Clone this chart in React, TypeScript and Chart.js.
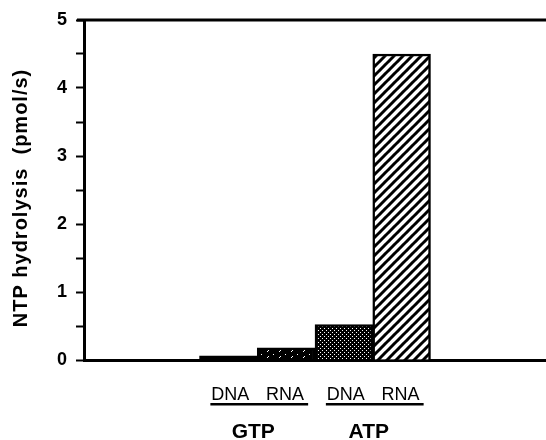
import React, { useEffect, useRef } from "react";
import { Chart, registerables } from "chart.js";

Chart.register(...registerables);

const categories = ["", "", "DNA", "RNA", "DNA", "RNA", "", ""];
const hydrolysis = [null, null, 0.06, 0.18, 0.52, 4.5, null, null];
const groups = [
  { name: "GTP", from: 2, to: 3 },
  { name: "ATP", from: 4, to: 5 },
];
const yTicks = [0, 1, 2, 3, 4, 5];
const yTitle = "NTP hydrolysis  (pmol/s)";

function makePattern(kind: string): CanvasPattern | string {
  const c = document.createElement("canvas");
  const ctx = c.getContext("2d")!;
  if (kind === "hatch") {
    c.width = 9; c.height = 9;
    ctx.fillStyle = "#fff";
    ctx.fillRect(0, 0, 9, 9);
    ctx.strokeStyle = "#000";
    ctx.lineWidth = 3;
    for (let o = -9; o <= 18; o += 9) {
      ctx.beginPath();
      ctx.moveTo(o - 1, 10);
      ctx.lineTo(o + 10, -1);
      ctx.stroke();
    }
  } else if (kind === "dots") {
    c.width = 4; c.height = 4;
    ctx.fillStyle = "#000";
    ctx.fillRect(0, 0, 4, 4);
    ctx.fillStyle = "#fff";
    ctx.fillRect(0, 0, 1, 1);
    ctx.fillRect(2, 2, 1, 1);
  } else if (kind === "dash") {
    c.width = 12; c.height = 6;
    ctx.fillStyle = "#000";
    ctx.fillRect(0, 0, 12, 6);
    ctx.fillStyle = "#fff";
    ctx.fillRect(3, 3, 1, 1);
    ctx.fillRect(4, 2, 1, 1);
    ctx.fillRect(9, 0, 1, 1);
  } else {
    return "#000";
  }
  return ctx.createPattern(c, "repeat")!;
}

export default function App() {
  const ref = useRef<HTMLCanvasElement>(null);
  useEffect(() => {
    const fills = [
      "#000", "#000",
      makePattern("solid"),
      makePattern("dash"),
      makePattern("dots"),
      makePattern("hatch"),
      "#000", "#000",
    ];
    const labelsPlugin = {
      id: "groupLabels",
      afterDraw(chart: any) {
        const ctx = chart.ctx;
        const x = chart.scales.x;
        const y = chart.scales.y;
        const area = chart.chartArea;
        ctx.save();
        // top frame line
        ctx.strokeStyle = "#000";
        ctx.lineWidth = 3;
        ctx.beginPath();
        ctx.moveTo(area.left - 7, y.getPixelForValue(5));
        ctx.lineTo(area.right, y.getPixelForValue(5));
        ctx.stroke();
        ctx.fillStyle = "#000";
        ctx.textAlign = "center";
        ctx.textBaseline = "alphabetic";
        for (const g of groups) {
          const x1 = x.getPixelForValue(g.from);
          const x2 = x.getPixelForValue(g.to);
          ctx.font = "18px 'Liberation Sans', Arial, sans-serif";
          ctx.fillText(categories[g.from], x1 + 2, 400);
          ctx.fillText(categories[g.to], x2 - 1, 400);
          const w1 = ctx.measureText(categories[g.from]).width;
          const w2 = ctx.measureText(categories[g.to]).width;
          ctx.fillRect(x1 - w1 / 2 + 1, 403, x2 + w2 / 2 - x1 + w1 / 2 + 2, 2.5);
          ctx.font = "bold 21px 'Liberation Sans', Arial, sans-serif";
          ctx.fillText(g.name, (x1 + x2) / 2 - 4, 438);
        }
        // y axis title
        ctx.save();
        ctx.translate(21, (area.top + area.bottom) / 2 + 8);
        ctx.rotate(-Math.PI / 2);
        ctx.font = "bold 20px 'Liberation Sans', Arial, sans-serif";
        (ctx as any).letterSpacing = "1px";
        ctx.textBaseline = "middle";
        ctx.fillText(yTitle, 0, 0);
        ctx.restore();
        ctx.restore();
      },
    };
    const chart = new Chart(ref.current!, {
      type: "bar",
      data: {
        labels: categories.map((c, i) => String(i)),
        datasets: [
          {
            data: hydrolysis as any,
            backgroundColor: fills as any,
            borderColor: "#000",
            borderWidth: 2.5,
            borderSkipped: "bottom",
            barPercentage: 1,
            categoryPercentage: 1,
          },
        ],
      },
      options: {
        animation: false,
        responsive: false,
        maintainAspectRatio: false,
        layout: { padding: { top: 20, right: 0, left: 0, bottom: 0 } },
        plugins: { legend: { display: false }, tooltip: { enabled: false } },
        scales: {
          x: {
            ticks: { display: false },
            grid: { display: false, drawTicks: false },
            border: { display: true, color: "#000", width: 3 },
            afterFit: (s: any) => { s.height = 80; },
          },
          y: {
            min: 0,
            max: 5,
            ticks: {
              stepSize: 0.5,
              color: "#000",
              padding: 9,
              font: { family: "'Liberation Sans', Arial, sans-serif", size: 18, weight: "bold" },
              callback: (v: any) => (yTicks.includes(Number(v)) ? String(v) : ""),
            },
            grid: { drawOnChartArea: false, tickLength: 8, tickWidth: 2, color: "#000" },
            border: { display: true, color: "#000", width: 3 },
            afterFit: (s: any) => { s.width = 84; },
          },
        },
      },
      plugins: [labelsPlugin],
    });
    return () => chart.destroy();
  }, []);
  return (
    <div style={{ position: "fixed", left: 0, top: 0, width: 546, height: 440, background: "#fff" }}>
      <canvas ref={ref} width={546} height={440} style={{ width: 546, height: 440 }} />
    </div>
  );
}
